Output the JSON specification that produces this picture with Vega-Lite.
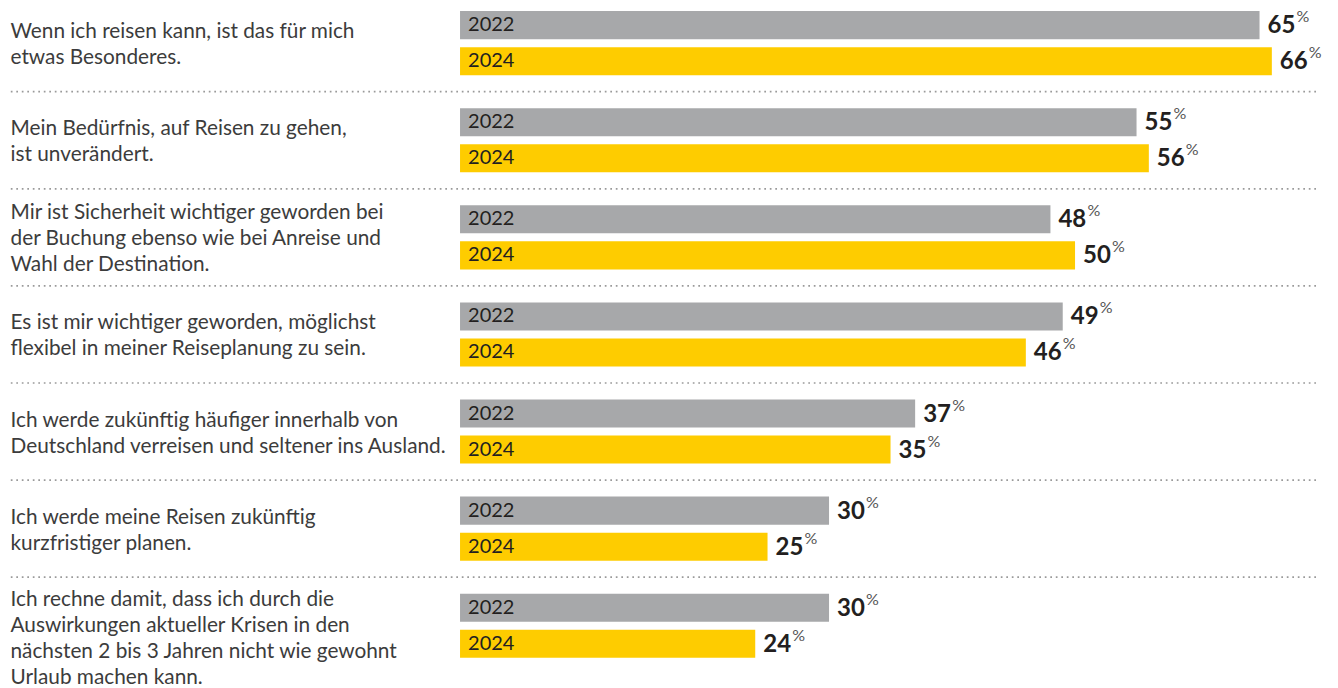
{
  "$schema": "https://vega.github.io/schema/vega-lite/v6.json",
  "width": 1308,
  "height": 679.7,
  "autosize": {"type": "none"},
  "padding": {"left": 8, "right": 22, "top": -5.4, "bottom": 13.7},
  "background": "white",
  "config": {"view": {"stroke": null}, "font": "Lato"},
  "data": {
    "values": [
      {"grp": 1, "q": "Wenn ich reisen kann, ist das für mich|etwas Besonderes.", "year": "2022", "value": 65},
      {"grp": 1, "q": "Wenn ich reisen kann, ist das für mich|etwas Besonderes.", "year": "2024", "value": 66},
      {"grp": 2, "q": "Mein Bedürfnis, auf Reisen zu gehen,|ist unverändert.", "year": "2022", "value": 55},
      {"grp": 2, "q": "Mein Bedürfnis, auf Reisen zu gehen,|ist unverändert.", "year": "2024", "value": 56},
      {"grp": 3, "q": "Mir ist Sicherheit wichtiger geworden bei|der Buchung ebenso wie bei Anreise und|Wahl der Destination.", "year": "2022", "value": 48},
      {"grp": 3, "q": "Mir ist Sicherheit wichtiger geworden bei|der Buchung ebenso wie bei Anreise und|Wahl der Destination.", "year": "2024", "value": 50},
      {"grp": 4, "q": "Es ist mir wichtiger geworden, möglichst|flexibel in meiner Reiseplanung zu sein.", "year": "2022", "value": 49},
      {"grp": 4, "q": "Es ist mir wichtiger geworden, möglichst|flexibel in meiner Reiseplanung zu sein.", "year": "2024", "value": 46},
      {"grp": 5, "q": "Ich werde zukünftig häufiger innerhalb von|Deutschland verreisen und seltener ins Ausland.", "year": "2022", "value": 37},
      {"grp": 5, "q": "Ich werde zukünftig häufiger innerhalb von|Deutschland verreisen und seltener ins Ausland.", "year": "2024", "value": 35},
      {"grp": 6, "q": "Ich werde meine Reisen zukünftig|kurzfristiger planen.", "year": "2022", "value": 30},
      {"grp": 6, "q": "Ich werde meine Reisen zukünftig|kurzfristiger planen.", "year": "2024", "value": 25},
      {"grp": 7, "q": "Ich rechne damit, dass ich durch die|Auswirkungen aktueller Krisen in den|nächsten 2 bis 3 Jahren nicht wie gewohnt|Urlaub machen kann.", "year": "2022", "value": 30},
      {"grp": 7, "q": "Ich rechne damit, dass ich durch die|Auswirkungen aktueller Krisen in den|nächsten 2 bis 3 Jahren nicht wie gewohnt|Urlaub machen kann.", "year": "2024", "value": 24}
    ]
  },
  "layer": [
    {
      "transform": [{"filter": "datum.year == '2022'"}],
      "mark": {"type": "rule", "color": "#9a9a9a", "strokeWidth": 1.7, "strokeDash": [1.7, 3.8]},
      "encoding": {
        "y": {"field": "q", "type": "nominal", "sort": {"field": "grp", "op": "min"}, "bandPosition": 0,
              "scale": {"paddingInner": 0, "paddingOuter": 0},
              "axis": {"title": null, "domain": false, "ticks": false, "tickSize": 0, "grid": false,
                       "labelAlign": "left", "labelBaseline": "middle", "labelPadding": -2,
                       "labelLimit": 0, "labelFont": "Lato", "labelFontSize": 20.8, "labelColor": "#3c3c3c",
                       "labelLineHeight": 26,
                       "labelOffset": {"condition": [
                         {"test": "length(split(datum.value, '|')) > 3", "value": -26},
                         {"test": "length(split(datum.value, '|')) > 2", "value": -24}
                       ], "value": -11},
                       "labelExpr": "split(datum.value, '|')"}},
        "strokeOpacity": {"condition": {"test": "datum.grp == 1", "value": 0}, "value": 1}
      }
    },
    {
      "mark": {"type": "bar", "orient": "horizontal"},
      "encoding": {
        "y": {"field": "q", "type": "nominal", "sort": {"field": "grp", "op": "min"}},
        "yOffset": {"field": "year", "type": "nominal", "scale": {"paddingInner": 0.222, "paddingOuter": 0.458}},
        "x": {"field": "value", "type": "quantitative", "scale": {"domain": [-36.75, 69.59], "nice": false, "zero": false}, "axis": null},
        "x2": {"datum": 0},
        "color": {"field": "year", "type": "nominal", "scale": {"domain": ["2022", "2024"], "range": ["#a7a8aa", "#fecc00"]}, "legend": null}
      }
    },
    {
      "mark": {"type": "text", "align": "left", "baseline": "middle", "dx": 8, "font": "Lato", "fontSize": 20, "color": "#231f20"},
      "encoding": {
        "y": {"field": "q", "type": "nominal", "sort": {"field": "grp", "op": "min"}},
        "yOffset": {"field": "year", "type": "nominal"},
        "x": {"datum": 0},
        "text": {"field": "year"}
      }
    },
    {
      "mark": {"type": "text", "align": "left", "baseline": "middle", "dx": 8, "dy": 1, "font": "Lato", "fontSize": 24, "fontWeight": "bold", "color": "#231f20"},
      "encoding": {
        "y": {"field": "q", "type": "nominal", "sort": {"field": "grp", "op": "min"}},
        "yOffset": {"field": "year", "type": "nominal"},
        "x": {"field": "value", "type": "quantitative"},
        "text": {"field": "value"}
      }
    },
    {
      "mark": {"type": "text", "align": "left", "baseline": "middle", "dx": 37, "dy": -8, "font": "Lato", "fontSize": 16, "color": "#555555"},
      "encoding": {
        "y": {"field": "q", "type": "nominal", "sort": {"field": "grp", "op": "min"}},
        "yOffset": {"field": "year", "type": "nominal"},
        "x": {"field": "value", "type": "quantitative"},
        "text": {"value": "%"}
      }
    }
  ]
}
